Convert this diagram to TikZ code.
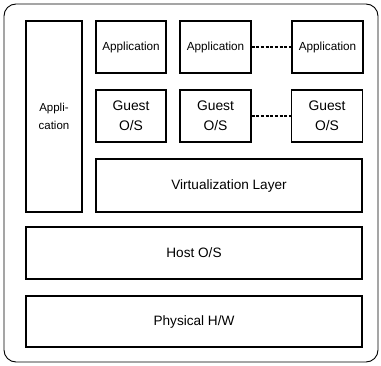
\documentclass[tikz,border=0pt]{standalone}
\usepackage{fontspec}
\setmainfont{Liberation Sans}
\usetikzlibrary{calc}

\tikzset{
	layer/.style={draw, line width=0.9pt, inner sep=1pt, font=\fontsize{8.8}{10}\selectfont},
	guest/.style={layer, align=center, font=\fontsize{10.4}{15}\selectfont},
	base/.style={layer, font=\fontsize{10.2}{12}\selectfont},
	link/.style={line width=0.8pt, dash pattern=on 2.2pt off 1.3pt}
}

\begin{document}
\begin{tikzpicture}[x=0.75pt, y=-0.75pt]
			\useasboundingbox (0,0) rectangle (381,366);
			\draw[line width=0.7pt, rounded corners=9pt] (4,4) rectangle (378,362);
			% left application column
			\node[layer, align=center, minimum width=42pt, minimum height=143.25pt, font=\fontsize{8.6}{13}\selectfont] (appL) at (54,116.5) {Appli-\\cation};
			% applications on guests
			\node[layer, minimum width=52.5pt, minimum height=39pt] (app1) at (131,47) {Application};
			\node[layer, minimum width=53.25pt, minimum height=39pt] (app2) at (215.5,47) {Application};
			\node[layer, minimum width=53.25pt, minimum height=39pt] (app3) at (327.5,47) {Application};
			% guest systems
			\node[guest, minimum width=52.5pt, minimum height=39pt] (gos1) at (131,116) {Guest\\O/S};
			\node[guest, minimum width=53.25pt, minimum height=39pt] (gos2) at (215.5,116) {Guest\\O/S};
			\node[guest, minimum width=53.25pt, minimum height=39pt] (gos3) at (327,116) {Guest\\O/S};
			\draw[link] (app2) -- (app3);
			\draw[link] (gos2) -- (gos3);
			% lower layers
			\node[base, minimum width=199.5pt, minimum height=39.75pt] (virt) at (229,185.5) {Virtualization Layer};
			\node[base, minimum width=252pt, minimum height=39pt] (host) at (194,253) {Host O/S};
			\node[base, minimum width=252pt, minimum height=38.25pt] (phys) at (194,321.5) {Physical H/W};
		\end{tikzpicture}
\end{document}
